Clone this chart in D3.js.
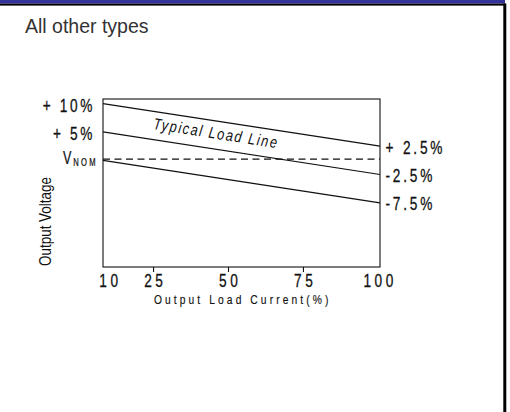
<!DOCTYPE html>
<html><head><meta charset="utf-8">
<script src="https://cdn.jsdelivr.net/npm/d3@7"></script>
<style>body{margin:0;background:#fff;overflow:hidden} svg{display:block}</style>
</head><body>
<script>
// ---- data ----
const title = "All other types";
const loadDomain = [8.3, 100.7];          // output load current (%) spanned by the plot frame
const voltDomain = [-18.8, 10.8];         // output voltage deviation (%) spanned by the frame
const loadTicks = [10, 25, 50, 75, 100];
const innerTicks = [25, 50, 75];
const lineNames = ["upper", "typical", "lower"];
const lineStart = [10, 5, 0];             // % at left edge of plot
const lineEnd = [2.5, -2.5, -7.5];        // % at right edge of plot
const nominal = 0;
const leftLabels = ["+ 10%", "+ 5%"];
const leftValues = [10, 5];
const rightLabels = ["+ 2.5%", "-2.5%", "-7.5%"];
const xTitle = "Output Load Current(%)";
const yTitle = "Output Voltage";
const annotation = "Typical Load Line";

// ---- drawing ----
const W = 510, H = 412;
const sans = "'Liberation Sans',Arial,Helvetica,sans-serif";
const SQ = 0.72; // horizontal condensing of the narrow label face
const INK = "#111";
const svg = d3.select("body").append("svg").attr("width", W).attr("height", H);

// condensed text helper: anchor point (px,py), horizontally squeezed
function ctext(px, py, str, size, lsPost, anchor, squeeze) {
  const s = squeeze || SQ;
  return svg.append("text")
    .attr("transform", `translate(${px},${py}) scale(${s},1)`)
    .attr("text-anchor", anchor || "start")
    .attr("font-family", sans).attr("font-size", size)
    .attr("letter-spacing", lsPost / s).attr("fill", INK)
    .attr("stroke", INK).attr("stroke-width", 0.3).text(str);
}

// page chrome
svg.append("rect").attr("x", 0).attr("y", 0).attr("width", 505).attr("height", 3.6).attr("fill", "#333399");
svg.append("rect").attr("x", 0).attr("y", 3.6).attr("width", 506).attr("height", 2).attr("fill", "#000");
svg.append("rect").attr("x", 503.3).attr("y", 3.6).attr("width", 3).attr("height", H).attr("fill", "#000");

svg.append("text").attr("x", 25).attr("y", 33).text(title)
  .attr("font-family", sans).attr("font-size", 19.5).attr("fill", "#333");

const x = d3.scaleLinear().domain(loadDomain).range([103, 380]);
const y = d3.scaleLinear().domain(voltDomain).range([267, 99]);

// frame
svg.append("rect")
  .attr("x", x(loadDomain[0])).attr("y", y(voltDomain[1]))
  .attr("width", x(loadDomain[1]) - x(loadDomain[0]))
  .attr("height", y(voltDomain[0]) - y(voltDomain[1]))
  .attr("fill", "none").attr("stroke", INK).attr("stroke-width", 1.1);

// x axis
const ls = 3.6;
const ax = svg.append("g").attr("transform", `translate(0,${y(voltDomain[0])})`)
  .call(d3.axisBottom(x).tickValues(loadTicks).tickSize(5).tickPadding(1.4).tickFormat(d3.format("d")));
ax.select(".domain").remove();
ax.selectAll(".tick line").attr("stroke", INK).attr("stroke-width", 1.1)
  .attr("display", d => innerTicks.includes(d) ? null : "none");
ax.selectAll(".tick text").attr("font-family", sans).attr("font-size", 19)
  .attr("transform", `scale(${SQ},1)`)
  .attr("letter-spacing", ls / SQ).attr("dx", ls / SQ / 2)
  .attr("fill", INK).attr("stroke", INK).attr("stroke-width", 0.3);

ctext(x(54.4) + 1.5, 303.5, xTitle, 13.5, 3.1, "middle", 0.76).attr("stroke-width", 0.15);

// y title
svg.append("text").attr("transform", `translate(50.5,${y(voltDomain[0]) - 45.5}) rotate(-90) scale(0.84,1)`)
  .attr("text-anchor", "middle").attr("font-family", sans).attr("font-size", 16)
  .attr("fill", INK).text(yTitle);

// nominal dashed line
svg.append("line").attr("x1", x(loadDomain[0])).attr("x2", x(loadDomain[1]))
  .attr("y1", y(nominal) - 1.2).attr("y2", y(nominal) - 1.2)
  .attr("stroke", INK).attr("stroke-width", 1.2).attr("stroke-dasharray", "7,4.5");

// load lines
const lineGen = d3.line().x(d => x(d[0])).y(d => y(d[1]));
lineNames.forEach((n, i) => {
  svg.append("path").datum([[loadDomain[0], lineStart[i]], [loadDomain[1], lineEnd[i]]])
    .attr("d", lineGen).attr("fill", "none").attr("stroke", INK).attr("stroke-width", 1.2);
});

// left labels
leftLabels.forEach((t, i) => {
  ctext(95, y(leftValues[i]) + 1.8, t, 19, 2.6, "end").attr("dominant-baseline", "central");
});
// V NOM
const vn = svg.append("text").attr("transform", `translate(63,${y(nominal) + 3.5}) scale(${SQ},1)`)
  .attr("font-family", sans).attr("fill", INK).attr("stroke", INK).attr("stroke-width", 0.25);
vn.append("tspan").attr("font-size", 17.5).text("V");
vn.append("tspan").attr("font-size", 10.5).attr("letter-spacing", 2.4 / SQ).attr("dx", 2.5).attr("dy", 2.6).text("NOM");

// right labels
rightLabels.forEach((t, i) => {
  ctext(385.5, y(lineEnd[i]) + 1.2, t, 19, 2.8, "start").attr("dominant-baseline", "central");
});

// annotation along the line
const ang = Math.atan2(y(lineEnd[0]) - y(lineStart[0]), x(loadDomain[1]) - x(loadDomain[0])) * 180 / Math.PI;
svg.append("text").attr("transform", `translate(${x(24.9)},${y(5.5)}) rotate(${ang}) scale(0.8,1)`)
  .attr("font-family", sans).attr("font-style", "italic").attr("font-size", 16)
  .attr("letter-spacing", 1.6 / 0.8).attr("fill", INK).text(annotation);
</script>
</body></html>
